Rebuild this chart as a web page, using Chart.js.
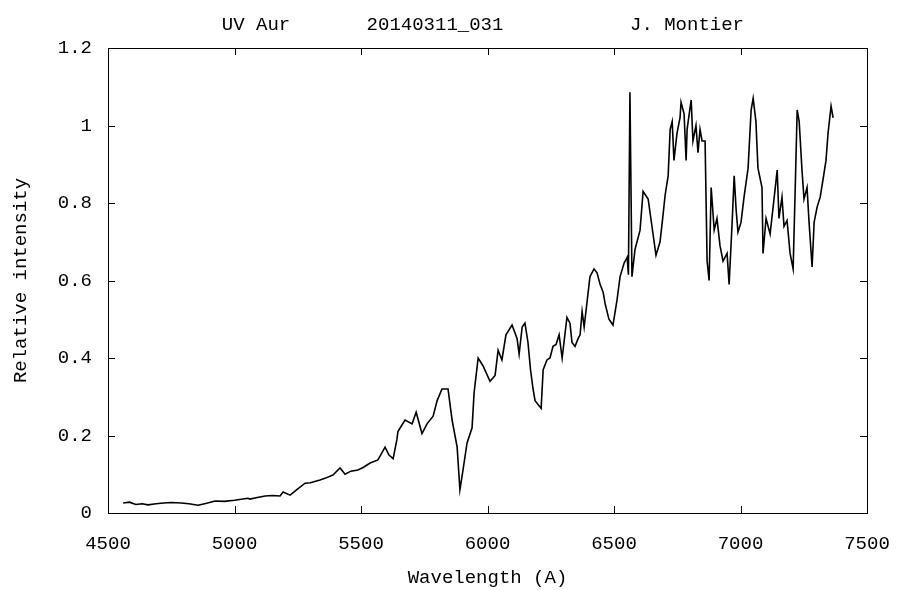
<!DOCTYPE html>
<html>
<head>
<meta charset="utf-8">
<script src="https://cdn.jsdelivr.net/npm/chart.js@4/dist/chart.umd.min.js"></script>
<style>
  html, body { margin: 0; padding: 0; background: #fff; }
  canvas { display: block; }
</style>
</head>
<body>
<canvas id="chart" width="913" height="590"></canvas>
<script>
// spectrum (10 values per line in both arrays)
const wavelengths = [
  4560, 4585, 4610, 4635, 4658, 4690, 4720, 4750, 4789, 4820,
  4856, 4890, 4923, 4960, 5000, 5053, 5061, 5090, 5121, 5150,
  5180, 5192, 5220, 5250, 5279, 5300, 5338, 5360, 5389, 5417,
  5437, 5460, 5488, 5510, 5536, 5567, 5595, 5610, 5627, 5642,
  5646, 5674, 5702, 5718, 5741, 5761, 5785, 5801, 5820, 5844,
  5860, 5880, 5891, 5903, 5919, 5939, 5947, 5963, 5982, 6010,
  6030, 6042, 6057, 6073, 6097, 6117, 6125, 6137, 6148, 6160,
  6170, 6180, 6188, 6212, 6220, 6235, 6247, 6259, 6271, 6283,
  6295, 6314, 6326, 6334, 6346, 6358, 6366, 6374, 6382, 6405,
  6421, 6433, 6445, 6457, 6465, 6480, 6496, 6512, 6524, 6540,
  6552, 6557, 6563, 6571, 6583, 6603, 6615, 6635, 6650, 6666,
  6682, 6694, 6702, 6714, 6722, 6730, 6737, 6749, 6761, 6765,
  6777, 6785, 6789, 6805, 6812, 6824, 6832, 6840, 6848, 6860,
  6868, 6876, 6884, 6896, 6907, 6919, 6931, 6947, 6955, 6967,
  6975, 6983, 6990, 7002, 7014, 7030, 7042, 7050, 7061, 7069,
  7085, 7089, 7101, 7117, 7129, 7145, 7152, 7164, 7172, 7184,
  7196, 7208, 7216, 7224, 7232, 7243, 7251, 7263, 7271, 7283,
  7291, 7303, 7315, 7326, 7338, 7346, 7358, 7366
];
const intensities = [
  0.026, 0.028, 0.022, 0.024, 0.021, 0.024, 0.026, 0.027, 0.026, 0.024,
  0.020, 0.025, 0.031, 0.030, 0.033, 0.038, 0.036, 0.040, 0.044, 0.045,
  0.044, 0.054, 0.046, 0.062, 0.077, 0.078, 0.085, 0.090, 0.098, 0.116,
  0.100, 0.108, 0.111, 0.118, 0.129, 0.137, 0.170, 0.150, 0.140, 0.190,
  0.210, 0.240, 0.230, 0.260, 0.205, 0.230, 0.250, 0.290, 0.320, 0.320,
  0.240, 0.170, 0.060, 0.110, 0.180, 0.220, 0.310, 0.400, 0.380, 0.340,
  0.355, 0.420, 0.395, 0.460, 0.485, 0.450, 0.410, 0.480, 0.490, 0.440,
  0.370, 0.320, 0.290, 0.270, 0.370, 0.395, 0.400, 0.430, 0.435, 0.460,
  0.400, 0.505, 0.490, 0.440, 0.430, 0.450, 0.460, 0.520, 0.480, 0.610,
  0.630, 0.620, 0.590, 0.570, 0.540, 0.500, 0.485, 0.550, 0.610, 0.645,
  0.660, 0.615, 1.086, 0.610, 0.680, 0.730, 0.830, 0.810, 0.740, 0.665,
  0.700, 0.770, 0.820, 0.870, 0.990, 1.010, 0.910, 0.980, 1.020, 1.060,
  1.030, 0.910, 0.990, 1.066, 0.960, 1.000, 0.930, 0.990, 0.960, 0.960,
  0.650, 0.600, 0.840, 0.730, 0.760, 0.690, 0.650, 0.670, 0.590, 0.750,
  0.870, 0.780, 0.725, 0.750, 0.815, 0.890, 1.040, 1.070, 1.010, 0.890,
  0.840, 0.670, 0.760, 0.720, 0.790, 0.885, 0.760, 0.815, 0.740, 0.755,
  0.670, 0.630, 0.830, 1.040, 1.010, 0.885, 0.810, 0.840, 0.750, 0.635,
  0.750, 0.790, 0.815, 0.860, 0.910, 0.980, 1.050, 1.020
];
const titleParts = ["UV Aur", "20140311_031", "J. Montier"];
const xTitle = "Wavelength (A)";
const yTitle = "Relative intensity";

const FONT = "'Liberation Mono', monospace";

// gnuplot style frame with inward ticks on all four sides
const framePlugin = {
  id: "frame",
  afterDraw(chart) {
    const { ctx, chartArea: a, scales } = chart;
    ctx.save();
    ctx.strokeStyle = "#000";
    ctx.lineWidth = 1;
    ctx.strokeRect(a.left + 0.5, a.top + 0.5, a.right - a.left, a.bottom - a.top);
    const tl = 7;
    ctx.beginPath();
    scales.x.ticks.forEach(t => {
      const x = Math.round(scales.x.getPixelForValue(t.value)) + 0.5;
      ctx.moveTo(x, a.bottom); ctx.lineTo(x, a.bottom - tl);
      ctx.moveTo(x, a.top); ctx.lineTo(x, a.top + tl);
    });
    scales.y.ticks.forEach(t => {
      const y = Math.round(scales.y.getPixelForValue(t.value)) + 0.5;
      ctx.moveTo(a.left, y); ctx.lineTo(a.left + tl, y);
      ctx.moveTo(a.right, y); ctx.lineTo(a.right - tl, y);
    });
    ctx.stroke();
    // title pieces
    ctx.fillStyle = "#000";
    ctx.font = "19px " + FONT;
    ctx.textAlign = "center";
    ctx.textBaseline = "middle";
    const cx = [256, 435, 687];
    titleParts.forEach((s, i) => ctx.fillText(s, cx[i], 25));
    ctx.restore();
  }
};

new Chart(document.getElementById("chart"), {
  type: "line",
  data: {
    datasets: [{
      data: wavelengths.map((w, i) => ({ x: w, y: intensities[i] })),
      borderColor: "#000",
      borderWidth: 1.6,
      pointRadius: 0,
      tension: 0,
      fill: false
    }]
  },
  options: {
    responsive: false,
    animation: false,
    layout: { padding: { top: 48, right: 46, left: 0, bottom: 0 } },
    plugins: { legend: { display: false }, tooltip: { enabled: false } },
    scales: {
      x: {
        type: "linear",
        min: 4500, max: 7500,
        grid: { display: false },
        border: { display: false },
        ticks: { stepSize: 500, color: "#000", padding: 12, font: { family: FONT, size: 19 }, maxRotation: 0,
          callback: v => String(v) },
        title: { display: true, text: xTitle, color: "#000", font: { family: FONT, size: 19 }, padding: { top: 14, bottom: 1 } },
        afterFit: s => { s.height = 77; }
      },
      y: {
        min: 0, max: 1.2,
        grid: { display: false },
        border: { display: false },
        ticks: { stepSize: 0.2, color: "#000", padding: 8, font: { family: FONT, size: 19 },
          callback: v => String(+v.toFixed(1)) },
        title: { display: true, text: yTitle, color: "#000", font: { family: FONT, size: 19 }, padding: { top: 10, bottom: 0 } },
        afterFit: s => { s.width = 108; }
      }
    }
  },
  plugins: [framePlugin]
});
</script>
</body>
</html>
